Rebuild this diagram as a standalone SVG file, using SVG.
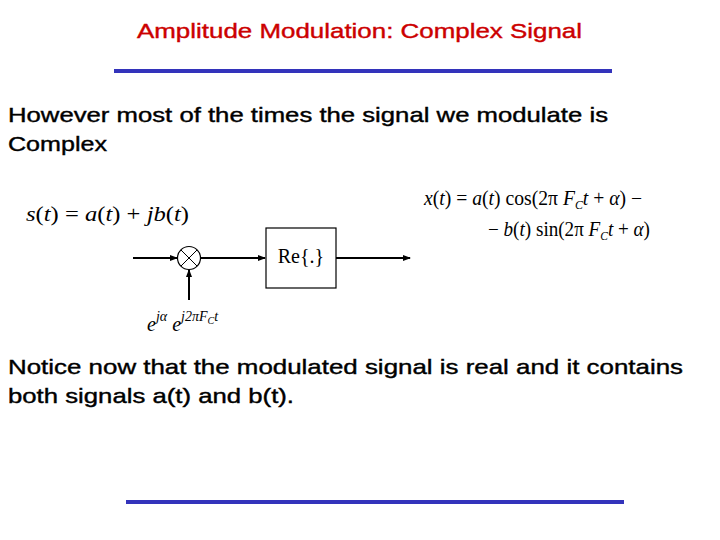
<svg xmlns="http://www.w3.org/2000/svg" width="720" height="540" viewBox="0 0 720 540">
<style>
.t{font-family:"Liberation Sans",Arial,sans-serif;font-size:21px;fill:#000;font-weight:normal;stroke:#000;stroke-width:0.4}
.m{font-family:"Liberation Serif","Times New Roman",serif;font-size:20px;fill:#000}
.mi{font-style:italic}
.ln{stroke:#000;stroke-width:2;fill:none}
.bar{stroke:#3333bb;stroke-width:4}
</style>
<defs><marker id="a" markerWidth="8" markerHeight="8" refX="7" refY="4" orient="auto" markerUnits="userSpaceOnUse"><path d="M0,1 L8,4 L0,7 z" fill="#000"/></marker></defs>
<rect width="720" height="540" fill="#fff"/>
<text x="137" y="38" class="t" style="fill:#cc0000;stroke:#cc0000" textLength="445" lengthAdjust="spacingAndGlyphs">Amplitude Modulation: Complex Signal</text>
<line x1="114" y1="71" x2="612" y2="71" class="bar"/>
<line x1="126" y1="502" x2="624" y2="502" class="bar"/>
<text x="8" y="122" class="t" textLength="600" lengthAdjust="spacingAndGlyphs">However most of the times the signal we modulate is</text>
<text x="8" y="151" class="t" textLength="99" lengthAdjust="spacingAndGlyphs">Complex</text>
<text x="8" y="374" class="t" textLength="675" lengthAdjust="spacingAndGlyphs">Notice now that the modulated signal is real and it contains</text>
<text x="8" y="403" class="t" textLength="286" lengthAdjust="spacingAndGlyphs">both signals a(t) and b(t).</text>
<text x="26" y="221" class="m" font-size="24" textLength="163" lengthAdjust="spacingAndGlyphs"><tspan class="mi">s</tspan>(<tspan class="mi">t</tspan>) = <tspan class="mi">a</tspan>(<tspan class="mi">t</tspan>) + <tspan class="mi">jb</tspan>(<tspan class="mi">t</tspan>)</text>
<text x="424" y="205" class="m" font-size="18" textLength="218" lengthAdjust="spacingAndGlyphs"><tspan class="mi">x</tspan>(<tspan class="mi">t</tspan>) = <tspan class="mi">a</tspan>(<tspan class="mi">t</tspan>) cos(2π <tspan class="mi">F</tspan><tspan class="mi" font-size="12" dy="4">C</tspan><tspan class="mi" dy="-4">t</tspan> + <tspan class="mi">α</tspan>) −</text>
<text x="488" y="236" class="m" font-size="18" textLength="162" lengthAdjust="spacingAndGlyphs">− <tspan class="mi">b</tspan>(<tspan class="mi">t</tspan>) sin(2π <tspan class="mi">F</tspan><tspan class="mi" font-size="12" dy="4">C</tspan><tspan class="mi" dy="-4">t</tspan> + <tspan class="mi">α</tspan>)</text>
<text x="147" y="331" class="m" font-size="24"><tspan class="mi">e</tspan><tspan class="mi" font-size="14" dy="-10">jα</tspan><tspan class="mi" dy="10"> e</tspan><tspan class="mi" font-size="14" dy="-10">j2πF</tspan><tspan class="mi" font-size="10" dy="3">C</tspan><tspan class="mi" font-size="14" dy="-3">t</tspan></text>
<g id="connectors">
<line x1="133" y1="258" x2="177" y2="258" class="ln" marker-end="url(#a)"/>
<line x1="201" y1="258" x2="265" y2="258" class="ln" marker-end="url(#a)"/>
<line x1="189" y1="300" x2="189" y2="270" class="ln" marker-end="url(#a)"/>
<line x1="336" y1="258" x2="410" y2="258" class="ln" marker-end="url(#a)"/>
</g>
<g id="mixer">
<circle cx="189" cy="258" r="11.5" fill="#fff" stroke="#000" stroke-width="1.2"/>
<line x1="181" y1="250" x2="197" y2="266" stroke="#000" stroke-width="1"/>
<line x1="197" y1="250" x2="181" y2="266" stroke="#000" stroke-width="1"/>
</g>
<g id="re">
<rect x="266" y="228" width="70" height="60" fill="#fff" stroke="#000" stroke-width="1.2"/>
<text x="301" y="263" text-anchor="middle" class="m" font-size="18">Re{.}</text>
</g>
</svg>
